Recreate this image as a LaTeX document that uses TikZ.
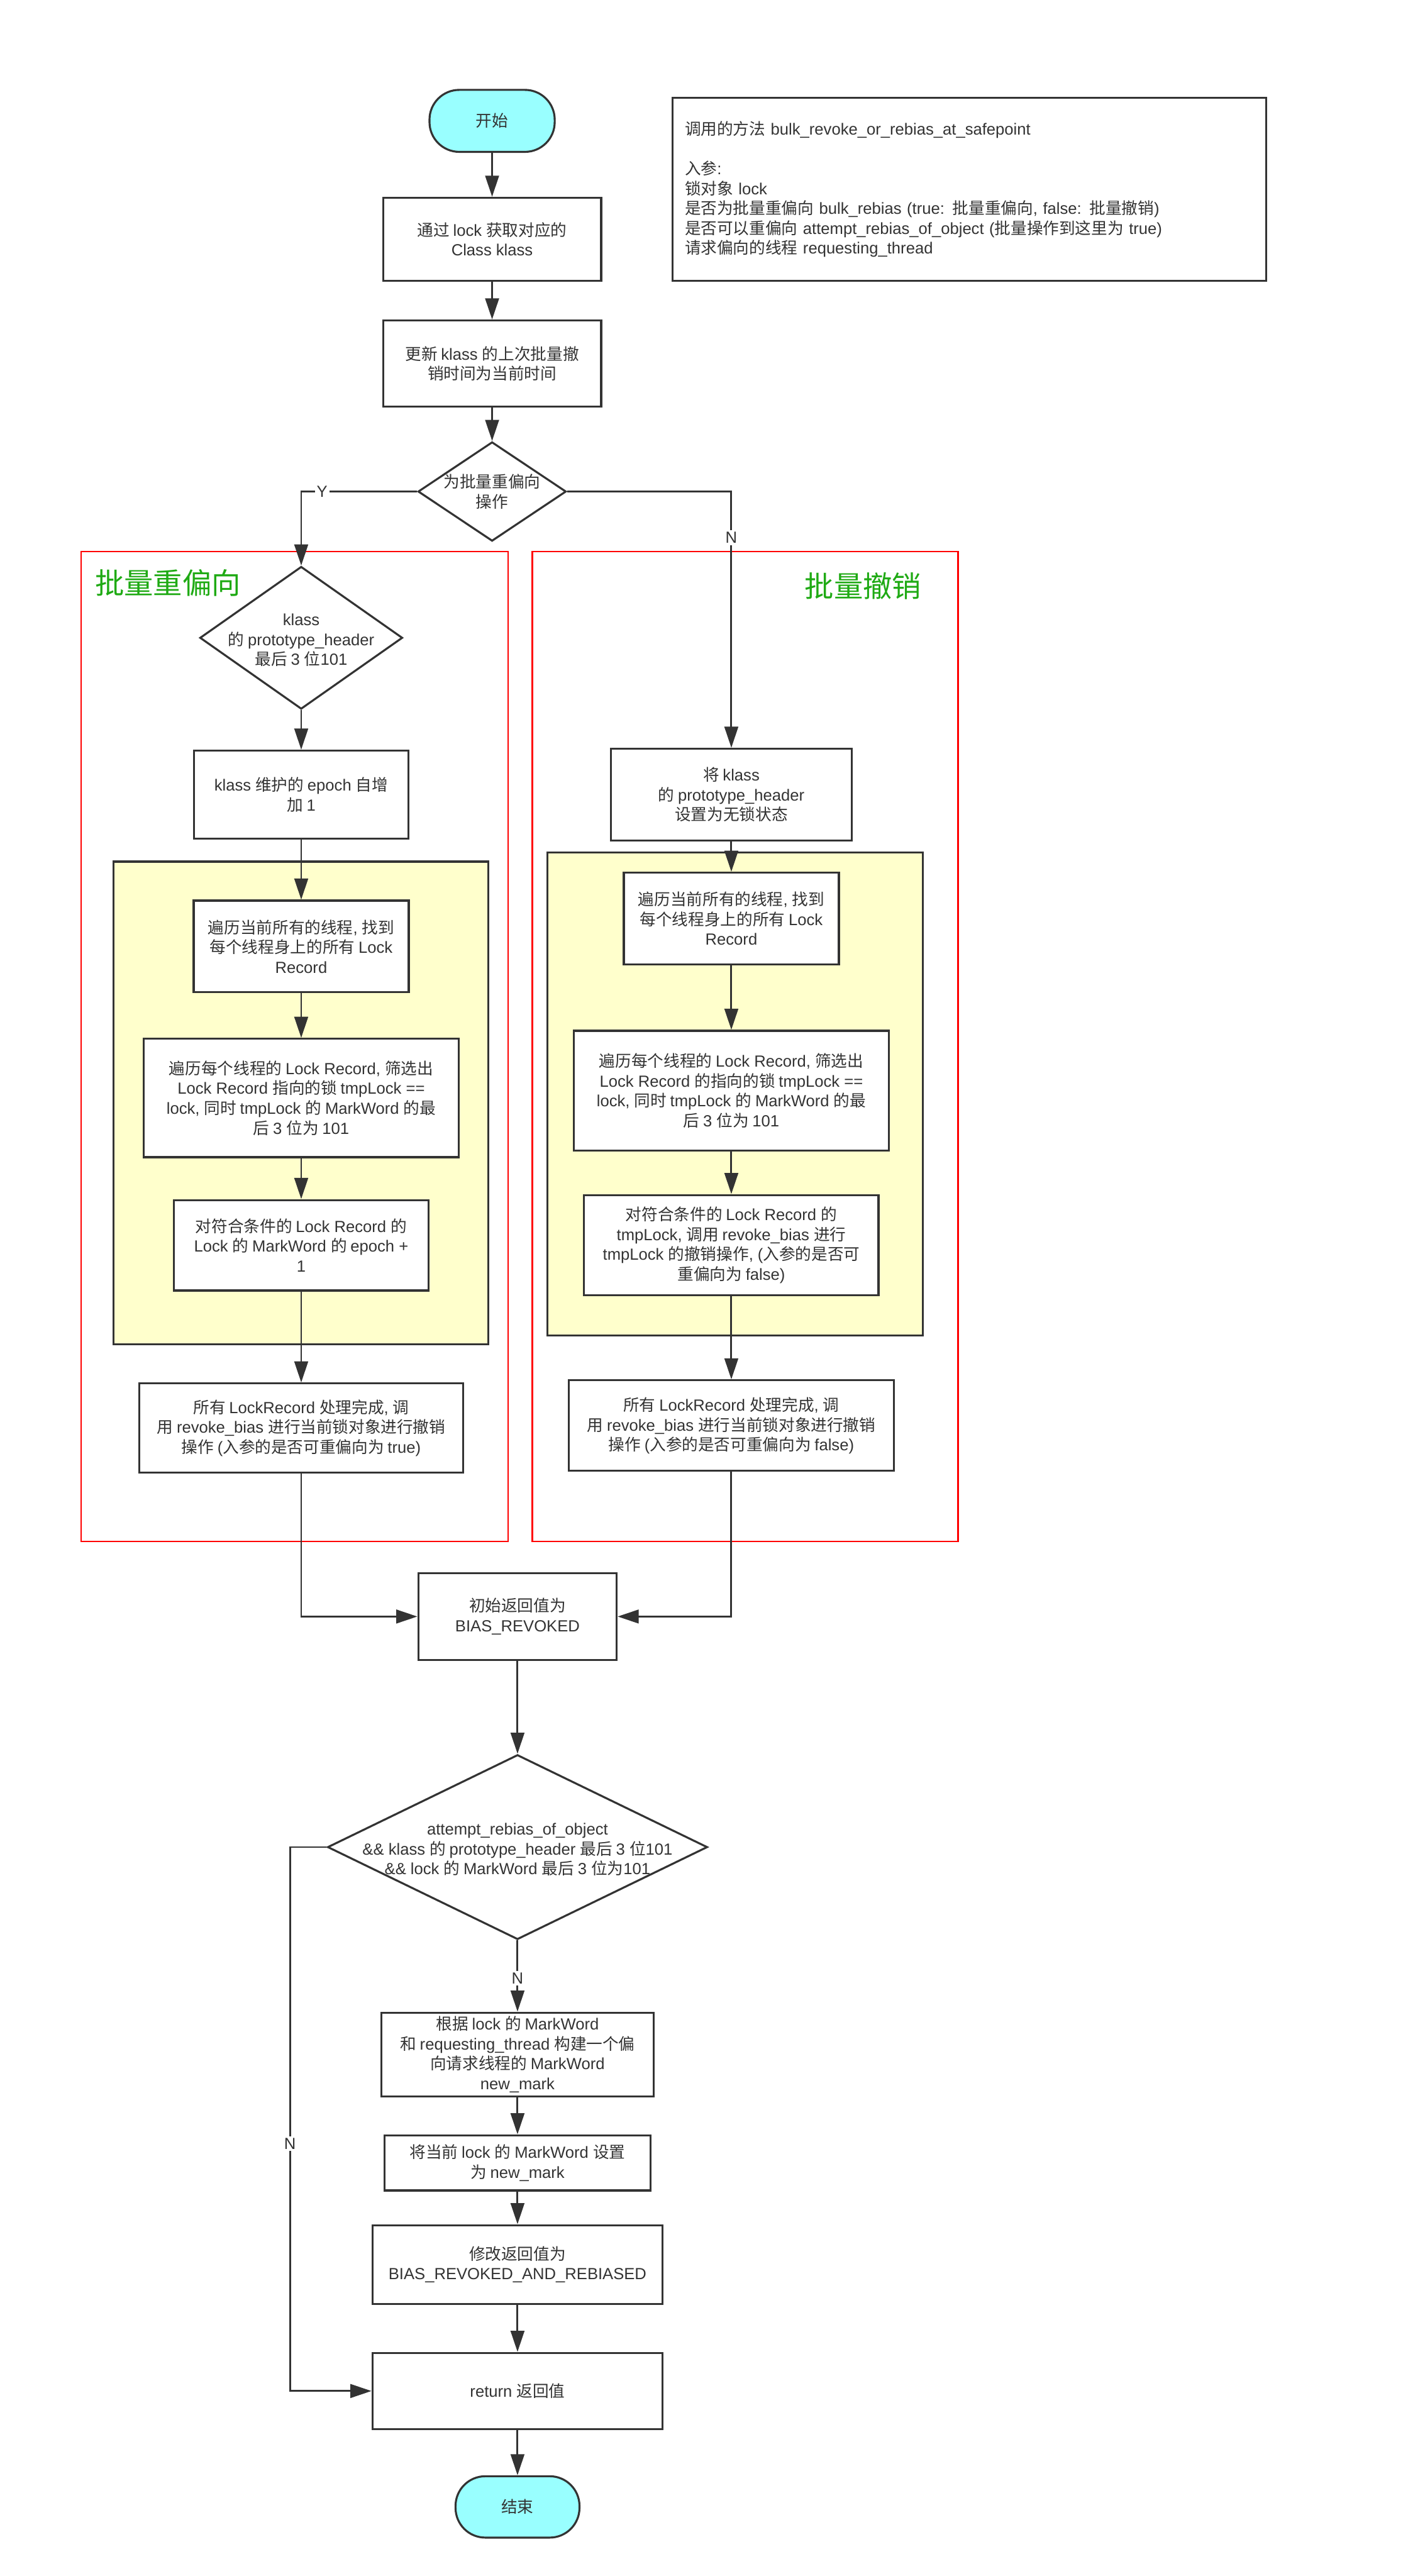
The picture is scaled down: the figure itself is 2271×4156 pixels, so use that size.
\documentclass[tikz,border=0pt]{standalone}
\usepackage{fontspec}
\setmainfont{Liberation Sans}
\newfontfamily\cjkfont{Noto Sans CJK SC}
\newfontfamily\latinfont{Liberation Sans}
\XeTeXinterchartokenstate=1
\newXeTeXintercharclass\CJKcls
\newcount\cjkcc
\cjkcc="4E00
\loop
  \XeTeXcharclass\cjkcc=\CJKcls
  \advance\cjkcc by 1
\ifnum\cjkcc<"A000 \repeat
\XeTeXinterchartoks 0 \CJKcls = {\cjkfont}
\XeTeXinterchartoks 4095 \CJKcls = {\cjkfont}
\XeTeXinterchartoks \CJKcls 0 = {\latinfont}
\XeTeXinterchartoks 4095 0 = {\latinfont}
\usetikzlibrary{shapes.geometric,arrows.meta}
\definecolor{ln}{HTML}{333333}
\definecolor{cyanf}{HTML}{99FFFF}
\definecolor{yel}{HTML}{FFFFCC}
\definecolor{grn}{HTML}{1FAA14}
\definecolor{redb}{HTML}{FF0000}
\tikzset{
  txt/.style={font=\fontsize{13}{16}\selectfont, text=ln},
  box/.style={txt, draw=ln, line width=1.6pt, fill=white, align=center, inner sep=0pt},
  term/.style={box, fill=cyanf, rounded corners=24pt},
  dec/.style={draw=ln, line width=1.6pt, fill=white, diamond, inner sep=0pt},
  dectext/.style={txt, align=center, inner sep=0pt},
  conn/.style={draw=ln, line width=1.5pt, -{Triangle[length=17pt,width=11pt]}},
  lbl/.style={txt, fill=white, inner sep=1.5pt},
  container/.style={line width=1.25pt},
  title/.style={font=\fontsize{23.5}{28}\selectfont, text=grn, inner sep=0pt},
}
\begin{document}
\begin{tikzpicture}[x=0.5pt,y=-0.5pt]
\useasboundingbox[fill=white] (0,0) rectangle (2271,4156);

% containers
\draw[container, draw=redb] (131,890) rectangle (820,2487);
\draw[container, draw=redb] (859,890) rectangle (1546,2487);
\draw[line width=1.6pt, draw=ln, fill=yel] (183,1390) rectangle (788,2169);
\draw[line width=1.6pt, draw=ln, fill=yel] (883,1375) rectangle (1489,2155);
\node[title, anchor=west] (tl) at (153,940) {批量重偏向};
\node[title, anchor=east] (tr) at (1487,945) {批量撤销};

% info box
\node[txt, draw=ln, line width=1.6pt, align=left, text width=459pt, inner xsep=10pt, inner ysep=0pt, minimum height=147.5pt] (info) at (1564,305.5)
{调用的方法 bulk\_revoke\_or\_rebias\_at\_safepoint\\[16pt]
入参:\\
锁对象 lock\\
是否为批量重偏向 bulk\_rebias (true: 批量重偏向, false: 批量撤销)\\
是否可以重偏向 attempt\_rebias\_of\_object (批量操作到这里为 true)\\
请求偏向的线程 requesting\_thread};

% main top
\node[term, minimum width=101pt, minimum height=50pt] (start) at (794,195) {开始};
\node[box, minimum width=176pt, minimum height=67pt] (b1) at (794,386) {通过 lock 获取对应的\\Class klass};
\node[box, minimum width=176pt, minimum height=69.5pt] (b2) at (794,586.5) {更新 klass 的上次批量撤\\销时间为当前时间};
\node[dec, minimum width=119.5pt, minimum height=80pt] (d1) at (794,793) {};
\node[dectext] (d1t) at (794,793) {为批量重偏向\\操作};

% left column
\node[dec, minimum width=163.5pt, minimum height=115pt] (d2) at (486,1029) {};
\node[dectext] (d2t) at (486,1033) {klass\\的 prototype\_header\\最后 3 位101};
\node[box, minimum width=173pt, minimum height=71pt] (l1) at (486,1282) {klass 维护的 epoch 自增\\加 1};
\node[box, minimum width=173.5pt, minimum height=74pt] (l2) at (486,1527) {遍历当前所有的线程, 找到\\每个线程身上的所有 Lock\\Record};
\node[box, minimum width=254pt, minimum height=95.5pt] (l3) at (486,1771.5) {遍历每个线程的 Lock Record, 筛选出\\Lock Record 指向的锁 tmpLock ==\\lock, 同时 tmpLock 的 MarkWord 的最\\后 3 位为 101};
\node[box, minimum width=205.5pt, minimum height=73pt] (l4) at (486,2009) {对符合条件的 Lock Record 的\\Lock 的 MarkWord 的 epoch +\\1};
\node[box, minimum width=261.5pt, minimum height=72pt] (l5) at (486,2304) {所有 LockRecord 处理完成, 调\\用 revoke\_bias 进行当前锁对象进行撤销\\操作 (入参的是否可重偏向为 true)};

% right column
\node[box, minimum width=194pt, minimum height=74pt] (r1) at (1180,1282) {将 klass\\的 prototype\_header\\设置为无锁状态};
\node[box, minimum width=173.5pt, minimum height=74pt] (r2) at (1180,1482) {遍历当前所有的线程, 找到\\每个线程身上的所有 Lock\\Record};
\node[box, minimum width=254pt, minimum height=96.5pt] (r3) at (1180,1759.5) {遍历每个线程的 Lock Record, 筛选出\\Lock Record 的指向的锁 tmpLock ==\\lock, 同时 tmpLock 的 MarkWord 的最\\后 3 位为 101};
\node[box, minimum width=237.5pt, minimum height=81pt] (r4) at (1180,2009) {对符合条件的 Lock Record 的\\tmpLock, 调用 revoke\_bias 进行\\tmpLock 的撤销操作, (入参的是否可\\重偏向为 false)};
\node[box, minimum width=262pt, minimum height=73pt] (r5) at (1180,2300) {所有 LockRecord 处理完成, 调\\用 revoke\_bias 进行当前锁对象进行撤销\\操作 (入参的是否可重偏向为 false)};

% bottom
\node[box, minimum width=160pt, minimum height=70pt] (res) at (835,2608) {初始返回值为\\BIAS\_REVOKED};
\node[dec, minimum width=306.5pt, minimum height=149pt] (d3) at (835,2980) {};
\node[dectext] (d3t) at (835,2984) {attempt\_rebias\_of\_object\\\&\& klass 的 prototype\_header 最后 3 位101\\\&\& lock 的 MarkWord 最后 3 位为101};
\node[box, minimum width=219.5pt, minimum height=67.5pt] (c1) at (835,3314.5) {根据 lock 的 MarkWord\\和 requesting\_thread 构建一个偏\\向请求线程的 MarkWord\\new\_mark};
\node[box, minimum width=214.5pt, minimum height=44.5pt] (c2) at (835,3489.5) {将当前 lock 的 MarkWord 设置\\为 new\_mark};
\node[box, minimum width=234pt, minimum height=63.5pt] (c3) at (835,3653.5) {修改返回值为\\BIAS\_REVOKED\_AND\_REBIASED};
\node[box, minimum width=234pt, minimum height=61.5pt] (c4) at (835,3857.5) {return 返回值};
\node[term, minimum width=100pt, minimum height=49.5pt] (end) at (835,4044.5) {结束};

% connectors
\draw[conn] (start) -- (b1);
\draw[conn] (b1) -- (b2);
\draw[conn] (b2) -- (d1);
\draw[conn] (d1.west) -- node[lbl, pos=0.82] {Y} (486,793) -- (d2.north);
\draw[conn] (d1.east) -- (1180,793) -- node[lbl, pos=0.18] {N} (r1.north);
\draw[conn] (d2.south) -- (l1.north);
\draw[conn] (l1) -- (l2);
\draw[conn] (l2) -- (l3);
\draw[conn] (l3) -- (l4);
\draw[conn] (l4) -- (l5);
\draw[conn] (r1) -- (r2);
\draw[conn] (r2) -- (r3);
\draw[conn] (r3) -- (r4);
\draw[conn] (r4) -- (r5);
\draw[conn] (l5.south) -- (486,2608) -- (res.west);
\draw[conn] (r5.south) -- (1180,2608) -- (res.east);
\draw[conn] (res) -- (d3.north);
\draw[conn] (d3.south) -- node[lbl, pos=0.53] {N} (c1.north);
\draw[conn] (d3.west) -- (468,2980) -- node[lbl, pos=0.545] {N} (468,3857.5) -- (c4.west);
\draw[conn] (c1) -- (c2);
\draw[conn] (c2) -- (c3);
\draw[conn] (c3) -- (c4);
\draw[conn] (c4) -- (end);
\end{tikzpicture}
\end{document}
